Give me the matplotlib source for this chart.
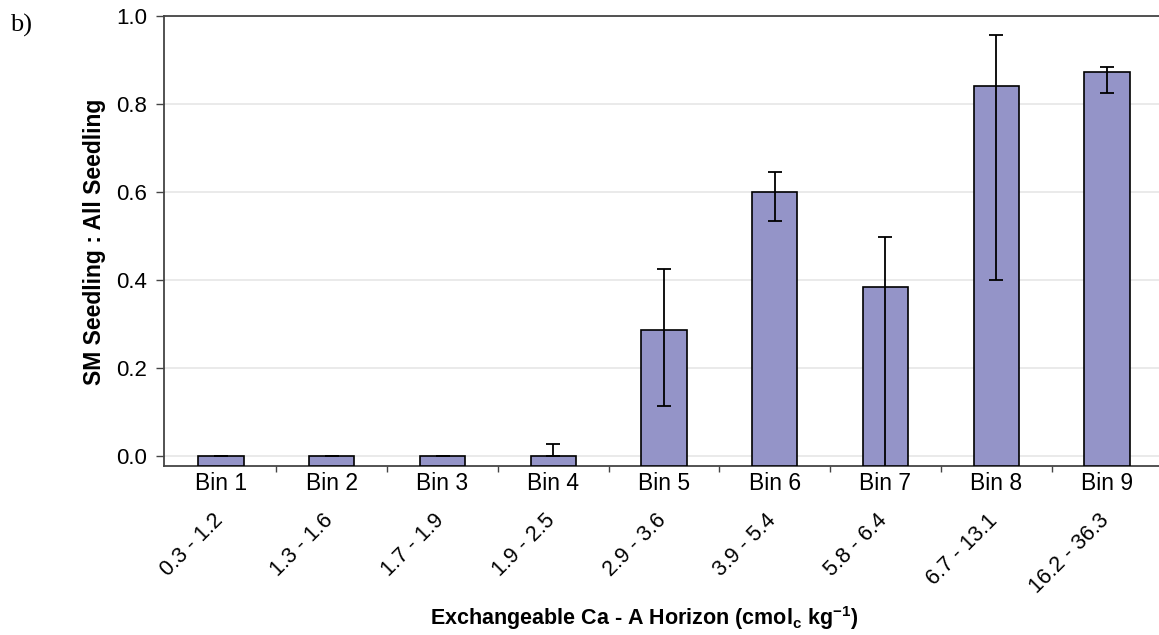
import numpy as np
import matplotlib
matplotlib.use('Agg')
import matplotlib.pyplot as plt
from matplotlib.ticker import FixedLocator

# ==========================================
# DATA
# ==========================================
bins = ['Bin 1', 'Bin 2', 'Bin 3', 'Bin 4', 'Bin 5', 'Bin 6', 'Bin 7', 'Bin 8', 'Bin 9']
ranges = ['0.3 - 1.2', '1.3 - 1.6', '1.7 - 1.9', '1.9 - 2.5', '2.9 - 3.6',
          '3.9 - 5.4', '5.8 - 6.4', '6.7 - 13.1', '16.2 - 36.3']
ratio = [0.0, 0.0, 0.0, 0.0, 0.286, 0.601, 0.385, 0.842, 0.873]
err_low = [0.0, 0.0, 0.0, 0.0, 0.113, 0.534, -0.06, 0.399, 0.826]
err_high = [0.0, 0.0, 0.0, 0.027, 0.425, 0.645, 0.498, 0.957, 0.885]
yticks = [0.0, 0.2, 0.4, 0.6, 0.8, 1.0]
# ==========================================

BAR_COLOR = '#9494c8'
Y_MIN = -0.0227

plt.rcParams['font.family'] = ['Liberation Sans', 'DejaVu Sans']
plt.rcParams['mathtext.fontset'] = 'custom'
plt.rcParams['mathtext.rm'] = 'Liberation Sans:bold'
plt.rcParams['mathtext.default'] = 'rm'

fig = plt.figure(figsize=(11.59, 6.35), dpi=100)
ax = fig.add_axes([164 / 1159, 1 - 466 / 635, (1159 - 164) / 1159, 450 / 635])

x = np.arange(len(bins))
vals = np.array(ratio)
lo = vals - np.array(err_low)
hi = np.array(err_high) - vals

ax.bar(x, vals - Y_MIN, bottom=Y_MIN, width=0.41, color=BAR_COLOR,
       edgecolor='black', linewidth=1.2, zorder=3)
ax.errorbar(x, vals, yerr=[lo, hi], fmt='none', ecolor='black', elinewidth=1.3,
            capsize=5, capthick=1.3, zorder=4)

ax.set_xlim(-0.515, 8.47)
ax.set_ylim(Y_MIN, 1.0)

ax.set_yticks(yticks)
ax.set_yticklabels([f'{v:.1f}' for v in yticks])
ax.yaxis.grid(True, color='#e6e6e6', linewidth=1.2, zorder=0)
ax.set_axisbelow(True)

ax.set_xticks(x)
ax.set_xticklabels(bins)
ax.xaxis.set_minor_locator(FixedLocator(x[:-1] + 0.5))
ax.tick_params(axis='x', which='major', length=0, pad=4, labelsize=16.5)
ax.tick_params(axis='x', which='minor', length=4, width=1, color='#444444', direction='out')
ax.tick_params(axis='y', which='major', length=6, width=1, color='#444444', pad=6, labelsize=16)

for s in ['left', 'top', 'bottom']:
    ax.spines[s].set_color('#444444')
    ax.spines[s].set_linewidth(1.3)
ax.spines['right'].set_visible(False)

# rotated bin ranges under the bin labels
for xi, r in zip(x, ranges):
    ax.text(xi - 0.08, -0.098, r, transform=ax.get_xaxis_transform(),
            rotation=45, ha='right', va='top', rotation_mode='anchor',
            fontsize=15.5, clip_on=False)

fig.text(95 / 1159, 1 - 242 / 635, 'SM Seedling : All Seedling', rotation=90,
         ha='center', va='center', fontsize=16.5, fontweight='bold')
fig.text(644 / 1159, 1 - 618 / 635,
         r'Exchangeable Ca - A Horizon (cmol$_{c}$ kg$^{-1}$)',
         ha='center', va='center', fontsize=15.5, fontweight='bold')
fig.text(10 / 1159, 1 - 25 / 635, 'b)', family='Liberation Serif',
         ha='left', va='center', fontsize=19)

fig.savefig('out.png', dpi=100)
